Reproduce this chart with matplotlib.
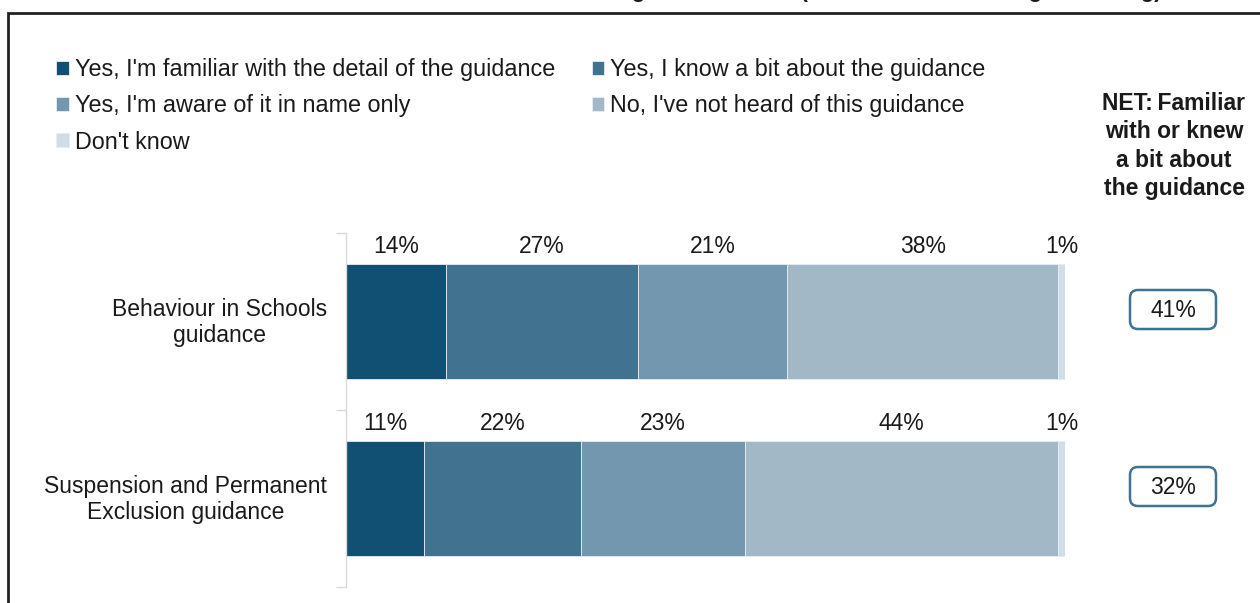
import matplotlib
matplotlib.use("Agg")
import matplotlib.pyplot as plt
from matplotlib.patches import FancyBboxPatch, Rectangle
from matplotlib.transforms import IdentityTransform
import numpy as np

plt.rcParams['font.family'] = ['Liberation Sans', 'DejaVu Sans']

# survey responses (% of respondents)
categories = ["Behaviour in Schools\nguidance",
              "Suspension and Permanent\nExclusion guidance"]
responses = ["Yes, I'm familiar with the detail of the guidance",
             "Yes, I know a bit about the guidance",
             "Yes, I'm aware of it in name only",
             "No, I've not heard of this guidance",
             "Don't know"]
familiar = [14, 11]
know_bit = [27, 22]
name_only = [21, 23]
not_heard = [38, 44]
dont_know = [1, 1]
net_familiar = [41, 32]

colours = ["#114f73", "#41728f", "#7397ae", "#a2b8c7", "#d0dde6"]
txt = "#1a1a1a"
fs = 16.5

W, H = 1260, 603
fig = plt.figure(figsize=(W / 100, H / 100), dpi=100)

# outer frame (runs off the right and bottom edges)
fig.patches.append(Rectangle((8 / W, -0.1), 1.2, 1 - 13 / H + 0.1,
                             transform=fig.transFigure, fill=False,
                             edgecolor="#222222", linewidth=2))
fig.text(393 / W, 1.0 + 3 / H,
         "Awareness of the new guidance notes "
         "(staff who are teaching or leading)",
         ha="left", va="baseline", fontsize=16, fontweight="bold", color=txt)

ax = fig.add_axes([346 / W, 16 / H, 719 / W, 354 / H])

series = [familiar, know_bit, name_only, not_heard, dont_know]
y = np.arange(len(categories))
left = np.zeros(len(categories))
for vals, col, name in zip(series, colours, responses):
    vals = np.array(vals, dtype=float)
    ax.barh(y, vals, left=left, height=0.65, color=col,
            edgecolor="#e6edf2", linewidth=0.6, label=name)
    for yi, (l, v) in enumerate(zip(left, vals)):
        ax.text(l + v / 2, yi - 0.65 / 2 - 0.035, f"{v:.0f}%",
                ha="center", va="bottom", fontsize=fs, color=txt)
    left += vals

ax.set_xlim(0, left.max())
ax.set_ylim(1.5, -0.5)
ax.set_xticks([])
for s in ["top", "right", "bottom"]:
    ax.spines[s].set_visible(False)
ax.spines["left"].set_color("#d9d9d9")
ax.spines["left"].set_linewidth(1)

ax.set_yticks(y - 0.015)
ax.set_yticklabels(categories, fontsize=fs, color=txt, linespacing=1.15)
for lbl in ax.get_yticklabels():
    lbl.set_multialignment("center")
ax.tick_params(axis="y", which="major", length=0, pad=13.5)
ax.set_yticks([-0.5, 0.5, 1.5], minor=True)
ax.tick_params(axis="y", which="minor", length=7, color="#d9d9d9", width=1)

# NET column
fig.text(1174 / W, 1 - 92 / H,
         "NET:\u2009Familiar\nwith or knew\na bit about\nthe guidance",
         ha="center", va="top", fontsize=16.5, fontweight="bold",
         color=txt, linespacing=1.3)

box_w, box_h = 86, 39
for yi, v in zip(y, net_familiar):
    cx = 1173
    cy = ax.transData.transform((0, yi))[1] + 12
    ax.add_patch(FancyBboxPatch((cx - box_w / 2, cy - box_h / 2), box_w, box_h,
                                boxstyle="round,pad=0,rounding_size=8",
                                transform=IdentityTransform(), clip_on=False,
                                facecolor="white", edgecolor="#41728f",
                                linewidth=1.8))
    ax.text(cx, cy - 1, f"{v}%", transform=IdentityTransform(), ha="center",
            va="center", fontsize=fs, color=txt, clip_on=False)

handles, labels = ax.get_legend_handles_labels()
order = [0, 2, 4, 1, 3]
fig.legend([handles[i] for i in order], [labels[i] for i in order],
           loc="upper left", bbox_to_anchor=(35 / W, 1 - 37 / H), ncol=2,
           frameon=False, fontsize=16.8, handlelength=0.55, handleheight=0.55,
           handletextpad=0.25, columnspacing=1.57, labelspacing=0.57,
           labelcolor=txt)

fig.savefig("out.png", dpi=100)
